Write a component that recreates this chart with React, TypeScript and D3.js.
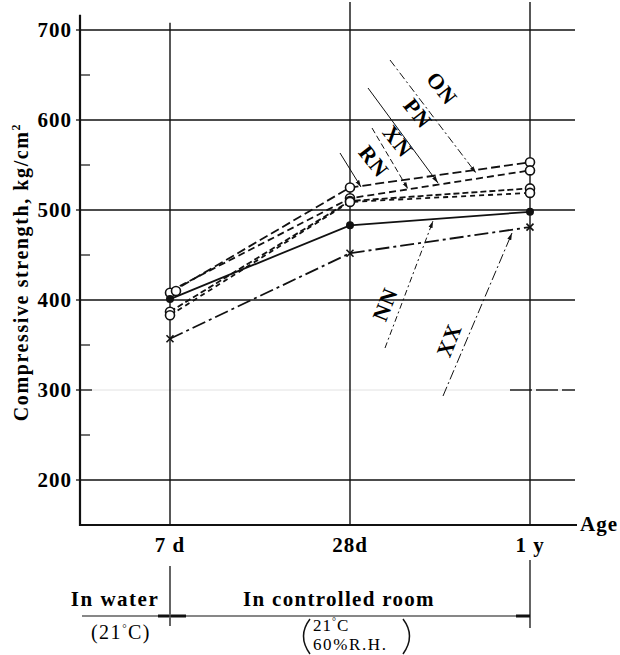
import React from 'react';
import * as d3 from 'd3';

const ages = ['7 d', '28d', '1 y'];
const yTicks = [200, 300, 400, 500, 600, 700];
const yMinor = [250, 350, 450, 550, 650];
const onValues = [408, 525, 553];
const pnValues = [410, 513, 544];
const xnValues = [387, 510, 524];
const rnValues = [383, 509, 519];
const nnValues = [401, 483, 498];
const xxValues = [357, 452, 481];

const series = [
  { name: 'ON', values: onValues, dash: '9,4', marker: 'circle' },
  { name: 'PN', values: pnValues, dash: '7,4', marker: 'circle' },
  { name: 'XN', values: xnValues, dash: '6,3', marker: 'circle' },
  { name: 'RN', values: rnValues, dash: '5,4', marker: 'circle' },
  { name: 'NN', values: nnValues, dash: '', marker: 'dot' },
  { name: 'XX', values: xxValues, dash: '14,4,3,4', marker: 'cross' },
];

const FONT = '"Liberation Serif", "DejaVu Serif", serif';

export default function App() {
  const W = 620, H = 655;
  const x = d3.scalePoint<string>().domain(ages).range([170, 530]);
  const y = d3.scaleLinear().domain([200, 700]).range([480, 30]);
  const axisX = 80;
  const axisBottom = y(150);
  const axisTop = y(717);
  const gridRight = 575;
  const line = d3.line<number>().x((_, i) => x(ages[i]) as number).y(d => y(d));

  const labelStyle = { fontFamily: FONT, fontWeight: 700, fontSize: 21, letterSpacing: 1 } as const;

  return (
    <svg width={W} height={H} style={{ display: 'block', position: 'absolute', left: 0, top: 0, background: '#fff' }}>
      <defs>
        <marker id="arr" viewBox="0 0 10 10" refX="10" refY="5" markerWidth="7" markerHeight="7" orient="auto-start-reverse">
          <path d="M0,2 L10,5 L0,8 Z" fill="#111" />
        </marker>
      </defs>
      <rect width={W} height={H} fill="#fff" />
      {/* horizontal gridlines */}
      {yTicks.filter(t => t !== 300).map(t => (
        <line key={'g' + t} x1={axisX} x2={gridRight} y1={y(t)} y2={y(t)} stroke="#111" strokeWidth={1.3} />
      ))}
      {/* faint 300 gridline, visible mostly at the right end */}
      <line x1={axisX} x2={gridRight} y1={y(300)} y2={y(300)} stroke="#e2e2e2" strokeWidth={1} />
      <line x1={axisX} x2={axisX + 12} y1={y(300)} y2={y(300)} stroke="#111" strokeWidth={1.3} />
      <line x1={510} x2={gridRight} y1={y(300)} y2={y(300)} stroke="#222" strokeWidth={1.3} strokeDasharray="22,4" />
      {yTicks.map(t => (
        <line key={'tk' + t} x1={axisX - 4} x2={axisX} y1={y(t)} y2={y(t)} stroke="#111" strokeWidth={1.3} />
      ))}
      {yMinor.map(t => (
        <line key={'m' + t} x1={axisX} x2={axisX + 10} y1={y(t)} y2={y(t)} stroke="#111" strokeWidth={1.2} />
      ))}
      {/* vertical gridlines */}
      {ages.map(a => (
        <line key={'v' + a} x1={x(a)} x2={x(a)} y1={a === '7 d' ? axisTop + 8 : 2} y2={axisBottom} stroke="#111" strokeWidth={1.4} />
      ))}
      {/* axes */}
      <line x1={axisX} x2={axisX} y1={axisTop} y2={axisBottom + 1} stroke="#111" strokeWidth={2.2} />
      <line x1={axisX - 1} x2={gridRight + 2} y1={axisBottom} y2={axisBottom} stroke="#111" strokeWidth={2.2} />
      {/* y tick labels */}
      {yTicks.map(t => (
        <text key={'yl' + t} x={axisX - 8} y={y(t)} dy="0.35em" textAnchor="end" style={labelStyle}>{t}</text>
      ))}
      {/* x tick labels */}
      {ages.map(a => (
        <text key={'xl' + a} x={x(a)} y={axisBottom + 27} textAnchor="middle" style={labelStyle}>{a}</text>
      ))}
      <text x={580} y={axisBottom + 6} style={labelStyle}>Age</text>
      {/* y axis title */}
      <text transform={`translate(28,${272}) rotate(-90)`} textAnchor="middle"
        style={{ fontFamily: FONT, fontWeight: 700, fontSize: 20, letterSpacing: 1.6 }}>
        Compressive strength, kg/cm<tspan dy="-8" fontSize={12}>2</tspan>
      </text>

      {/* series lines */}
      {series.map(s => (
        <path key={'l' + s.name} d={line(s.values) as string} fill="none" stroke="#111"
          strokeWidth={1.8} strokeDasharray={s.dash || undefined} />
      ))}
      {/* markers */}
      {series.map(s => s.values.map((v, i) => {
        const cx = (x(ages[i]) as number) + (s.name === 'PN' && i === 0 ? 6 : 0);
        const cy = y(v);
        if (s.marker === 'circle') return <circle key={s.name + i} cx={cx} cy={cy} r={4.5} fill="#fff" stroke="#111" strokeWidth={1.6} />;
        if (s.marker === 'dot') return <circle key={s.name + i} cx={cx} cy={cy} r={4} fill="#111" />;
        return <g key={s.name + i} stroke="#111" strokeWidth={1.6}>
          <line x1={cx - 3.5} x2={cx + 3.5} y1={cy - 3.5} y2={cy + 3.5} />
          <line x1={cx - 3.5} x2={cx + 3.5} y1={cy + 3.5} y2={cy - 3.5} />
        </g>;
      }))}

      {/* leader lines and labels */}
      <line x1={390} y1={60} x2={476} y2={173} stroke="#111" strokeWidth={1} strokeDasharray="8,3,2,3" markerEnd="url(#arr)" />
      <text transform="translate(436,93) rotate(52)" textAnchor="middle" style={{ ...labelStyle, fontSize: 22 }}>ON</text>
      <line x1={368} y1={88} x2={438} y2={183} stroke="#111" strokeWidth={1} markerEnd="url(#arr)" />
      <text transform="translate(412,118) rotate(52)" textAnchor="middle" style={{ ...labelStyle, fontSize: 22 }}>PN</text>
      <line x1={372} y1={128} x2={408} y2={189} stroke="#111" strokeWidth={1} strokeDasharray="6,3" markerEnd="url(#arr)" />
      <text transform="translate(392,146) rotate(52)" textAnchor="middle" style={{ ...labelStyle, fontSize: 22 }}>XN</text>
      <line x1={340} y1={153} x2={361} y2={187} stroke="#111" strokeWidth={1} markerEnd="url(#arr)" />
      <text transform="translate(368,166) rotate(52)" textAnchor="middle" style={{ ...labelStyle, fontSize: 22 }}>RN</text>
      <line x1={385} y1={348} x2={433} y2={221} stroke="#111" strokeWidth={1} strokeDasharray="6,3,2,3" markerEnd="url(#arr)" />
      <text transform="translate(392,307) rotate(-68)" textAnchor="middle" style={{ ...labelStyle, fontSize: 22 }}>NN</text>
      <line x1={443} y1={396} x2={512} y2={233} stroke="#111" strokeWidth={1} strokeDasharray="10,3,2,3" markerEnd="url(#arr)" />
      <text transform="translate(456,343) rotate(-68)" textAnchor="middle" style={{ ...labelStyle, fontSize: 22 }}>XX</text>

      {/* bottom annotation */}
      <line x1={x('7 d')} x2={x('7 d')} y1={566} y2={626} stroke="#111" strokeWidth={1.3} />
      <line x1={x('1 y')} x2={x('1 y')} y1={560} y2={628} stroke="#111" strokeWidth={1.3} />
      <line x1={82} x2={x('1 y')} y1={616} y2={616} stroke="#111" strokeWidth={1.2} />
      <line x1={158} x2={(x('7 d') as number) - 1} y1={616} y2={616} stroke="#111" strokeWidth={3} />
      <line x1={(x('7 d') as number) + 1} x2={186} y1={616} y2={616} stroke="#111" strokeWidth={3} />
      <line x1={(x('1 y') as number) - 14} x2={x('1 y')} y1={616} y2={616} stroke="#111" strokeWidth={3} />
      <text x={115} y={606} textAnchor="middle" style={{ ...labelStyle, letterSpacing: 1.5 }}>In water</text>
      <text x={339} y={606} textAnchor="middle" style={{ ...labelStyle, letterSpacing: 1.3 }}>In controlled room</text>
      <text x={121} y={639} textAnchor="middle" style={{ fontFamily: FONT, fontSize: 20, letterSpacing: 1.5 }}>(21<tspan dy="-7" fontSize={11}>°</tspan><tspan dy="7">C)</tspan></text>
      <path d="M310,619 Q297,636 310,654" fill="none" stroke="#111" strokeWidth={1.5} />
      <path d="M403,619 Q416,636 403,654" fill="none" stroke="#111" strokeWidth={1.5} />
      <text x={313} y={631} style={{ fontFamily: FONT, fontSize: 17, letterSpacing: 1 }}>21<tspan dy="-6" fontSize={10}>°</tspan><tspan dy="6">C</tspan></text>
      <text x={313} y={650} style={{ fontFamily: FONT, fontSize: 17, letterSpacing: 1.6 }}>60%R.H.</text>
    </svg>
  );
}
